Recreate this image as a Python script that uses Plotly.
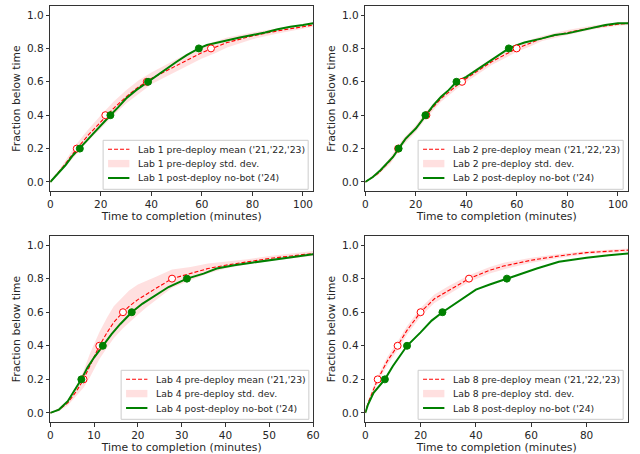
import plotly.graph_objects as go

# ---------------- data ----------------
# Lab 1
lab1_x = [0, 5, 10, 15, 20, 25, 30, 35, 40, 45, 50, 55, 60, 65, 70, 80, 90, 100, 104]
lab1_mean = [0, 0.09, 0.19, 0.28, 0.36, 0.44, 0.51, 0.57, 0.62, 0.66, 0.70, 0.74, 0.775, 0.805, 0.835, 0.875, 0.905, 0.93, 0.94]
lab1_std = [0, 0.015, 0.03, 0.035, 0.04, 0.04, 0.04, 0.04, 0.035, 0.035, 0.035, 0.035, 0.035, 0.035, 0.03, 0.02, 0.015, 0.012, 0.01]
lab1_post_x = [0, 3, 6, 9, 11.7, 14, 17, 20, 23.8, 27, 30, 34, 38.7, 42, 46, 50, 54, 58.8, 62, 66, 70, 75, 80, 85, 90, 95, 100, 104]
lab1_post_y = [0, 0.05, 0.10, 0.16, 0.20, 0.24, 0.29, 0.34, 0.40, 0.45, 0.50, 0.55, 0.60, 0.64, 0.68, 0.72, 0.76, 0.80, 0.82, 0.835, 0.85, 0.865, 0.88, 0.895, 0.915, 0.93, 0.94, 0.95]
lab1_pre_q_x = [10.5, 21.8, 38.2, 63.6]
lab1_post_q_x = [11.7, 23.8, 38.7, 58.8]

# Lab 2
lab2_x = [0, 5, 10, 13, 15, 20, 24, 30, 35, 38, 45, 50, 55, 60, 65, 70, 80, 90, 100, 104]
lab2_mean = [0, 0.05, 0.13, 0.20, 0.24, 0.32, 0.40, 0.50, 0.56, 0.60, 0.67, 0.72, 0.76, 0.80, 0.83, 0.86, 0.895, 0.925, 0.945, 0.95]
lab2_std = [0, 0.01, 0.02, 0.02, 0.02, 0.02, 0.02, 0.02, 0.02, 0.02, 0.02, 0.02, 0.02, 0.02, 0.02, 0.015, 0.015, 0.012, 0.01, 0.01]
lab2_post_x = [0, 3, 6, 9, 11, 13.2, 16, 20, 23.8, 27, 30, 33, 36.1, 40, 45, 50, 56.8, 60, 63, 70, 75, 80, 90, 95, 100, 104]
lab2_post_y = [0, 0.03, 0.07, 0.12, 0.15, 0.20, 0.26, 0.32, 0.40, 0.46, 0.51, 0.55, 0.60, 0.63, 0.68, 0.73, 0.80, 0.82, 0.835, 0.86, 0.88, 0.89, 0.925, 0.94, 0.95, 0.95]
lab2_pre_q_x = [13.0, 24.2, 38.3, 59.9]
lab2_post_q_x = [13.2, 23.8, 36.1, 56.8]

# Lab 4
lab4_x = [0, 2, 4, 6, 7.6, 9, 11.2, 13, 14.5, 16.6, 18, 20, 22, 24, 27.8, 32, 36, 40, 45, 50, 55, 60]
lab4_mean = [0, 0.02, 0.06, 0.13, 0.20, 0.28, 0.40, 0.48, 0.54, 0.60, 0.635, 0.675, 0.71, 0.74, 0.80, 0.83, 0.86, 0.88, 0.90, 0.92, 0.935, 0.95]
lab4_std = [0, 0.01, 0.015, 0.03, 0.05, 0.07, 0.08, 0.09, 0.095, 0.095, 0.095, 0.09, 0.08, 0.07, 0.055, 0.04, 0.03, 0.02, 0.015, 0.015, 0.015, 0.015]
lab4_post_x = [0, 2, 4, 6, 7.1, 8.5, 10, 12.0, 14, 16, 18.6, 21, 24, 27, 31.2, 35, 38, 42, 46, 50, 55, 60]
lab4_post_y = [0, 0.02, 0.07, 0.15, 0.20, 0.27, 0.33, 0.40, 0.47, 0.53, 0.60, 0.65, 0.70, 0.75, 0.80, 0.83, 0.86, 0.88, 0.895, 0.91, 0.93, 0.945]
lab4_pre_q_x = [7.6, 11.2, 16.6, 27.8]
lab4_post_q_x = [7.1, 12.0, 18.6, 31.2]

# Lab 8
lab8_x = [0, 1, 2.5, 4.5, 8, 11.7, 15, 20, 25, 30, 37.5, 45, 50, 60, 70, 80, 95]
lab8_mean = [0, 0.06, 0.12, 0.20, 0.31, 0.40, 0.49, 0.60, 0.68, 0.73, 0.80, 0.85, 0.875, 0.91, 0.935, 0.955, 0.97]
lab8_std = [0, 0.01, 0.02, 0.02, 0.025, 0.025, 0.025, 0.025, 0.025, 0.025, 0.02, 0.02, 0.02, 0.015, 0.012, 0.01, 0.01]
lab8_post_x = [0, 1, 3, 5, 7.1, 10, 12.5, 15.1, 20, 24, 27.9, 32, 36, 40, 45, 51.2, 56, 62, 70, 80, 88, 95]
lab8_post_y = [0, 0.05, 0.12, 0.16, 0.20, 0.28, 0.34, 0.40, 0.48, 0.55, 0.60, 0.645, 0.69, 0.735, 0.765, 0.80, 0.83, 0.86, 0.90, 0.925, 0.94, 0.95]
lab8_pre_q_x = [4.5, 11.7, 20.0, 37.5]
lab8_post_q_x = [7.1, 15.1, 27.9, 51.2]

quantile_levels = [0.2, 0.4, 0.6, 0.8]

labs = ["Lab 1", "Lab 2", "Lab 4", "Lab 8"]
pre_years = ["('21,'22,'23)", "('21,'22,'23)", "('21,'23)", "('21,'22,'23)"]
x_ranges = [104, 104, 60, 95]
x_dtick = [20, 20, 10, 20]

panels = [
    (lab1_x, lab1_mean, lab1_std, lab1_post_x, lab1_post_y, lab1_pre_q_x, lab1_post_q_x),
    (lab2_x, lab2_mean, lab2_std, lab2_post_x, lab2_post_y, lab2_pre_q_x, lab2_post_q_x),
    (lab4_x, lab4_mean, lab4_std, lab4_post_x, lab4_post_y, lab4_pre_q_x, lab4_post_q_x),
    (lab8_x, lab8_mean, lab8_std, lab8_post_x, lab8_post_y, lab8_pre_q_x, lab8_post_q_x),
]

# ---------------- layout geometry (pixels) ----------------
W, H = 640, 454
ax_px = [(48, 315, 6, 191), (368, 635, 6, 191), (48, 315, 236, 422), (368, 635, 236, 422)]
# legend boxes: (left, right, top, bottom)
leg_px = [(101.7, 310, 140.3, 189.3), (421.7, 630, 140.3, 189.3),
          (120, 310.7, 370.3, 419.3), (421.7, 630, 370.3, 419.3)]

def px2x(p):
    return p / W

def px2y(p):
    return 1 - p / H

FONT = "DejaVu Sans"
TXT = "#262626"
BAND = "rgba(255,0,0,0.12)"
fig = go.Figure()
layout = dict(
    width=W, height=H,
    margin=dict(l=0, r=0, t=0, b=0),
    paper_bgcolor="white", plot_bgcolor="white",
    font=dict(family=FONT, size=10.5, color=TXT),
    showlegend=False,
)
shapes = []
annotations = []

for i, (px, pm, ps, qx, qy, pre_q, post_q) in enumerate(panels):
    n = i + 1
    xa = "x" if n == 1 else f"x{n}"
    ya = "y" if n == 1 else f"y{n}"
    lower = [m - s for m, s in zip(pm, ps)]
    upper = [m + s for m, s in zip(pm, ps)]
    lab = labs[i]
    names = [f"{lab} pre-deploy mean {pre_years[i]}", f"{lab} pre-deploy std. dev.",
             f"{lab} post-deploy no-bot ('24)"]

    fig.add_trace(go.Scatter(x=px, y=lower, mode="lines", line=dict(width=0, color="rgba(255,0,0,0)"),
                             hoverinfo="skip", xaxis=xa, yaxis=ya))
    fig.add_trace(go.Scatter(x=px, y=upper, mode="lines", line=dict(width=0, color="rgba(255,0,0,0)"),
                             fill="tonexty", fillcolor=BAND, name=names[1], xaxis=xa, yaxis=ya))
    fig.add_trace(go.Scatter(x=px, y=pm, mode="lines", line=dict(color="red", width=1.1, dash="4px,2px"),
                             name=names[0], xaxis=xa, yaxis=ya))
    fig.add_trace(go.Scatter(x=qx, y=qy, mode="lines", line=dict(color="green", width=2),
                             name=names[2], xaxis=xa, yaxis=ya))
    fig.add_trace(go.Scatter(x=pre_q, y=quantile_levels, mode="markers",
                             marker=dict(symbol="circle", size=7, color="white", line=dict(color="red", width=1)),
                             xaxis=xa, yaxis=ya))
    fig.add_trace(go.Scatter(x=post_q, y=quantile_levels, mode="markers",
                             marker=dict(symbol="circle", size=7, color="green", line=dict(color="green", width=1)),
                             xaxis=xa, yaxis=ya))

    x0, x1, y0, y1 = ax_px[i]
    axis_common = dict(showgrid=False, zeroline=False, showline=True, linecolor="#333", linewidth=1,
                       mirror=True, ticks="outside", ticklen=3.5, tickwidth=0.8, tickcolor="#333",
                       tickfont=dict(family=FONT, size=10.5, color=TXT))
    layout["xaxis" if n == 1 else f"xaxis{n}"] = dict(
        axis_common, domain=[px2x(x0), px2x(x1)], anchor=ya, range=[0, x_ranges[i]],
        tick0=0, dtick=x_dtick[i],
        title=dict(text="Time to completion (minutes)", font=dict(family=FONT, size=10.8, color=TXT), standoff=3))
    layout["yaxis" if n == 1 else f"yaxis{n}"] = dict(
        axis_common, domain=[px2y(y1), px2y(y0)], anchor=xa, range=[-0.054, 1.054],
        tick0=0, dtick=0.2, tickformat=".1f",
        title=dict(text="Fraction below time", font=dict(family=FONT, size=10.8, color=TXT), standoff=4))

    # manual legend (matplotlib-like compact box)
    lx0, lx1, ly0, ly1 = leg_px[i]
    shapes.append(dict(type="rect", xref="paper", yref="paper",
                       x0=px2x(lx0), x1=px2x(lx1), y0=px2y(ly1), y1=px2y(ly0),
                       fillcolor="rgba(255,255,255,0.8)", line=dict(color="#cccccc", width=1), layer="above"))
    rows = [ly0 + 9.0, ly0 + 23.3, ly0 + 37.7]
    sx0, sx1, tx = lx0 + 5, lx0 + 26.7, lx0 + 33.3
    shapes.append(dict(type="line", xref="paper", yref="paper",
                       x0=px2x(sx0), x1=px2x(sx1), y0=px2y(rows[0]), y1=px2y(rows[0]),
                       line=dict(color="red", width=1.1, dash="4px,2px"), layer="above"))
    shapes.append(dict(type="rect", xref="paper", yref="paper",
                       x0=px2x(sx0), x1=px2x(sx1), y0=px2y(rows[1] + 3.7), y1=px2y(rows[1] - 3.7),
                       fillcolor=BAND, line=dict(width=0), layer="above"))
    shapes.append(dict(type="line", xref="paper", yref="paper",
                       x0=px2x(sx0), x1=px2x(sx1), y0=px2y(rows[2]), y1=px2y(rows[2]),
                       line=dict(color="green", width=2), layer="above"))
    for r, name in zip(rows, names):
        annotations.append(dict(text=name, xref="paper", yref="paper", x=px2x(tx), y=px2y(r),
                                xanchor="left", yanchor="middle", showarrow=False,
                                font=dict(family=FONT, size=9.3, color=TXT)))

layout["shapes"] = shapes
layout["annotations"] = annotations
fig.update_layout(**layout)
fig.write_html("out.html", config={"displayModeBar": False},
               post_script="document.body.style.margin='0';")
